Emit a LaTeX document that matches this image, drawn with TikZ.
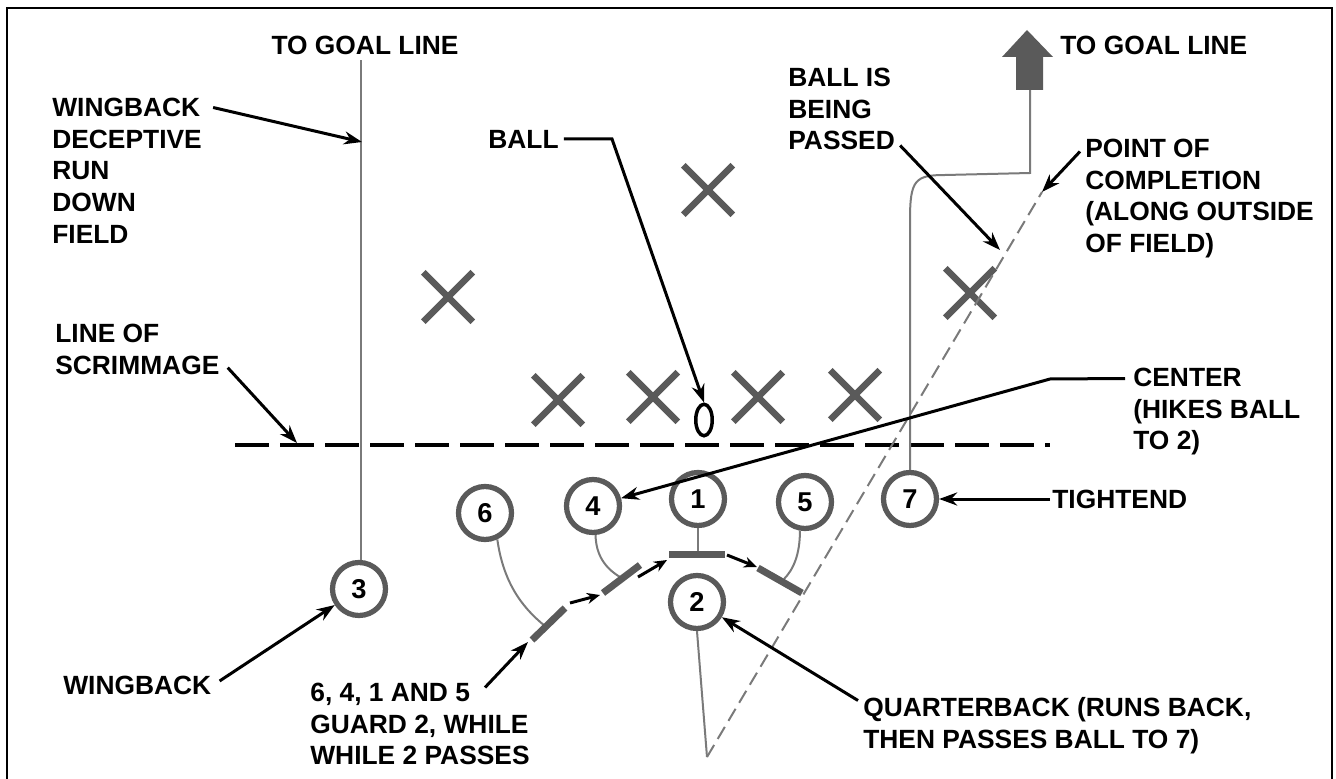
\documentclass[tikz,border=0pt]{standalone}
\usepackage{fontspec}
\setmainfont{Liberation Sans}
\usetikzlibrary{arrows.meta, shapes.geometric, shapes.misc, calc}
\definecolor{fGray}{HTML}{5A5A5A}
\definecolor{fRoute}{HTML}{7A7A7A}

\begin{document}
\begin{tikzpicture}[x=0.2mm, y=-0.2mm,
      lbl/.style={font=\bfseries\fontsize{15}{18.1}\selectfont, inner sep=0pt, align=left},
      player/.style={circle, draw=fGray, line width=1.05mm, minimum size=10.6mm,
                     inner sep=0pt, font=\bfseries\fontsize{15.5}{18}\selectfont},
      defender/.style={cross out, draw=fGray, line width=1.3mm, minimum size=8.6mm, inner sep=0pt},
      bar/.style={fGray, line width=1.4mm},
      route/.style={fRoute, line width=0.4mm},
      pointer/.style={line width=0.6mm, -{Stealth[length=3.6mm, width=2.6mm]}},
      nudge/.style={line width=0.6mm, -{Stealth[length=2.6mm, width=2.2mm]}}]
    \useasboundingbox (0,0) rectangle (1336,779);
    \draw[line width=0.35mm] (7,779) -- (7,8) -- (1332,8) -- (1332,779);

    \node[player] (p1) at (698,499) {1};
    \node[player] (p2) at (697,602) {2};
    \node[player] (p3) at (359,589) {3};
    \node[player] (p4) at (593,506) {4};
    \node[player] (p5) at (805,502) {5};
    \node[player] (p6) at (485,513) {6};
    \node[player] (p7) at (910,499) {7};
    \foreach \n/\x/\y in {1/448/297, 2/708/190, 3/558/400, 4/653/397,
                          5/758/397, 6/855/395, 7/970/293}
      \node[defender] (d\n) at (\x,\y) {};
    \node[ellipse, draw, line width=0.7mm, minimum width=3.3mm, minimum height=6.3mm,
          inner sep=0pt] (ball) at (704,420) {};

    \node[lbl] (goalL) at (365,45) {TO GOAL LINE};
    \node[lbl, anchor=west] (goalR) at (1060,45) {TO GOAL LINE};
    \node[lbl, anchor=north west] (runLbl) at (52,97.5) {WINGBACK\\DECEPTIVE\\RUN\\DOWN\\FIELD};
    \node[lbl, anchor=north west] (losLbl) at (55,323.5) {LINE OF\\SCRIMMAGE};
    \node[lbl, anchor=west] (ballLbl) at (488,139) {BALL};
    \node[lbl, anchor=north west] (passLbl) at (788,67.5) {BALL IS\\BEING\\PASSED};
    \node[lbl, anchor=north west] (pointLbl) at (1085,138.5)
         {POINT OF\\COMPLETION\\(ALONG OUTSIDE\\OF FIELD)};
    \node[lbl, anchor=north west] (centerLbl) at (1133,367.5) {CENTER\\(HIKES BALL\\TO 2)};
    \node[lbl, anchor=west] (tightLbl) at (1052,499) {TIGHTEND};
    \node[lbl, anchor=north west] (qbLbl) at (863,697.5)
         {QUARTERBACK (RUNS BACK,\\THEN PASSES BALL TO 7)};
    \node[lbl, anchor=north west] (guardLbl) at (310,682.5)
         {6, 4, 1 AND 5\\GUARD 2, WHILE\\WHILE 2 PASSES};
    \node[lbl, anchor=west] (wingLbl) at (63,685) {WINGBACK};

    \coordinate (losW) at (235,445);
    \coordinate (losE) at (1050,445);
    \coordinate (goalFoot) at (361,60);
    \coordinate (drop) at (707,757);
    \coordinate (catch) at (1042,192);
    \coordinate (runMark) at (362,142);
    \coordinate (losMark) at (297,443);
    \coordinate (ballBend) at (612,139);
    \coordinate (passMark) at (1000,250);
    \coordinate (centerBend) at (1050,379);
    \coordinate (b6a) at (532,640);
    \coordinate (b6b) at (565,608);
    \coordinate (b4a) at (603,593);
    \coordinate (b4b) at (640,565);
    \coordinate (b1a) at (669,554);
    \coordinate (b1b) at (725,554);
    \coordinate (b5a) at (758,568);
    \coordinate (b5b) at (802,593);

    \draw[line width=0.7mm, dash pattern=on 6.8mm off 2.2mm] (losW) -- (losE);
    \draw[route] (goalFoot |- p3.north) -- (goalFoot);
    \draw[route] (p7.north) -- (910,220) .. controls (910,180) and (915,175) .. (945,175)
                 -- (1030,173) -- (1030,89);
    \fill[fGray] (1016,90) -- (1016,57) -- (1002,57) -- (1027,30) -- (1053,57)
                 -- (1043,57) -- (1043,90) -- cycle;
    \draw[route] (p2.south) -- (drop);
    \draw[route, dash pattern=on 2.8mm off 1.4mm] (drop) -- (catch);
    \draw[route] (p6.-65) .. controls (503,580) and (520,606) .. (545,626);
    \draw[route] (p4.-85) .. controls (596,555) and (605,568) .. (620,577);
    \draw[route] (p1.south) -- (p1.south |- b1a);
    \draw[route] (p5.-100) .. controls (800,555) and (793,570) .. (784,579);
    \foreach \a/\b in {b6a/b6b, b4a/b4b, b1a/b1b, b5a/b5b}
      \draw[bar] (\a) -- (\b);
    \draw[nudge] ([shift={(5,-5)}]b6b) -- ([shift={(-3,2)}]b4a);
    \draw[nudge] ([shift={(-2,12)}]b4b) -- ([shift={(-2,6)}]b1a);
    \draw[nudge] ([shift={(2,1)}]b1b) -- ([shift={(-1,-1)}]b5a);

    \draw[pointer] ([shift={(11,10)}]runLbl.north east) -- (runMark);
    \draw[pointer] ([shift={(8,-7)}]losLbl.south east) -- (losMark);
    \draw[pointer] ([shift={(5,0)}]ballLbl.east) -- (ballBend) -- (ball.north);
    \draw[pointer] ([shift={(5,-5)}]passLbl.south east) -- (passMark);
    \draw[pointer] ([shift={(-5,13)}]pointLbl.north west) -- (catch);
    \draw[pointer] ([shift={(-8,11)}]centerLbl.north west) -- (centerBend) -- (p4);
    \draw[pointer] ([shift={(-2,0)}]tightLbl.west) -- (p7);
    \draw[pointer] ([shift={(-5,3)}]qbLbl.north west) -- (p2);
    \draw[pointer] ([shift={(8,-4)}]wingLbl.east) -- (p3);
    \draw[pointer] ([shift={(175,5)}]guardLbl.north west) -- ([shift={(-4,2)}]b6a);
  \end{tikzpicture}
\end{document}
